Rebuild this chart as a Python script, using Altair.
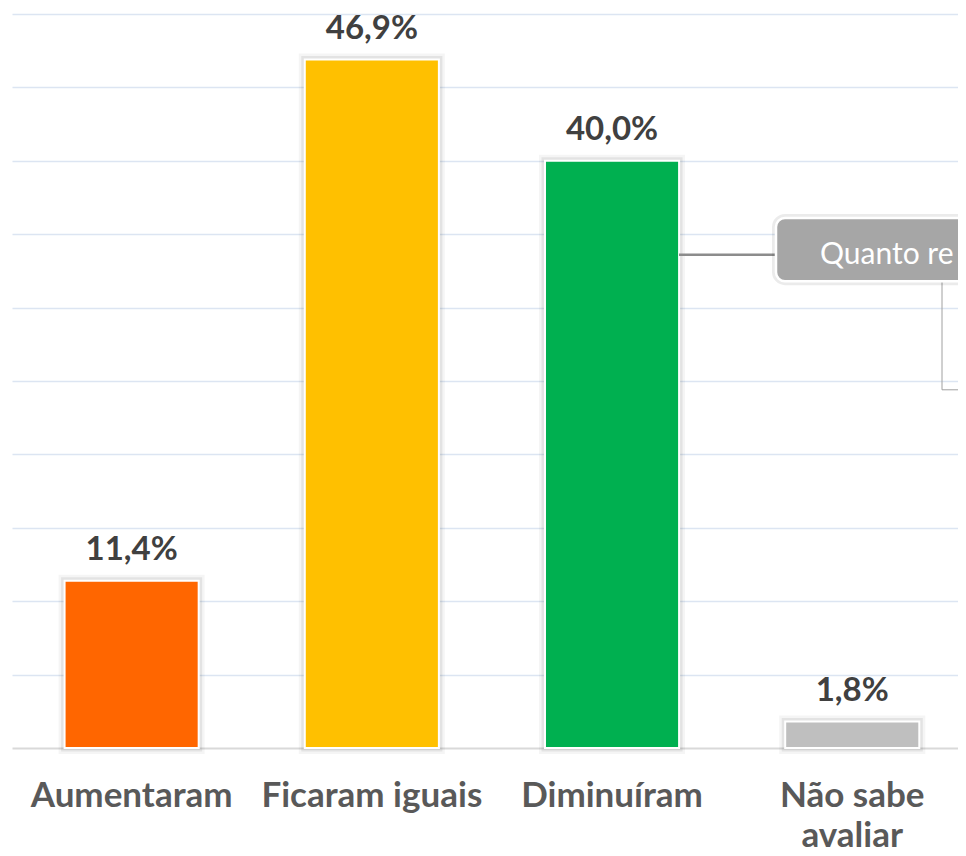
import altair as alt
import pandas as pd

categories = ["Aumentaram", "Ficaram iguais", "Diminuíram", "Não sabe avaliar"]
values = [11.4, 46.9, 40.0, 1.8]
value_labels = ["11,4%", "46,9%", "40,0%", "1,8%"]
bar_colors = ["#FF6600", "#FFC000", "#00B050", "#BFBFBF"]

# annotation callout (partly cut off at the right edge in the source)
note_text = ["Quanto re"]
note_top = [36.1]
note_bottom = [31.8]
note_link = [33.6]
note_low = [24.4]

df = pd.DataFrame({"cat": categories, "val": values, "lab": value_labels, "col": bar_colors})
note = pd.DataFrame({"t": note_text, "top": note_top, "bot": note_bottom,
                     "link": note_link, "low": note_low})

FONT = "Lato"

x = alt.X("cat:N", sort=categories, title=None,
          scale=alt.Scale(paddingInner=0.4417, paddingOuter=0.19, align=0.576),
          axis=alt.Axis(labelAngle=0, labelFont=FONT, labelFontSize=35, labelFontWeight="bold",
                        labelColor="#595959", labelPadding=30, ticks=False, tickSize=0,
                        domain=True, domainColor="#D9D9D9", domainWidth=2,
                        labelLineHeight=40, labelLimit=400,
                        labelExpr="datum.value == 'Não sabe avaliar' ? ['Não sabe', 'avaliar'] : datum.value"))
y = alt.Y("val:Q", title=None, scale=alt.Scale(domain=[0, 50], nice=False, zero=True),
          axis=alt.Axis(labels=False, ticks=False, domain=False, grid=True,
                        values=[5, 10, 15, 20, 25, 30, 35, 40, 45, 50],
                        gridColor="#DCE5F2", gridWidth=1.5))

base = alt.Chart(df)

shadow1 = base.mark_bar(fillOpacity=0, stroke="#000000", strokeOpacity=0.04, strokeWidth=12).encode(x=x, y=y)
shadow2 = base.mark_bar(fillOpacity=0, stroke="#000000", strokeOpacity=0.07, strokeWidth=7).encode(x=x, y=y)
bars = base.mark_bar(stroke="white", strokeWidth=2).encode(
    x=x, y=y, color=alt.Color("col:N", scale=None))
labels = base.mark_text(font=FONT, fontSize=33, fontWeight="bold", color="#404040",
                        baseline="alphabetic", dy=-21).encode(x=x, y="val:Q", text="lab:N")

nb = alt.Chart(note)
link = nb.mark_rule(color="#8C8C8C", strokeWidth=2.5).encode(
    x=alt.value(667), x2=alt.value(764), y="link:Q")
drop_v = nb.mark_rule(color="#A0A0A0", strokeWidth=1).encode(
    x=alt.value(930), y="bot:Q", y2="low:Q")
drop_h = nb.mark_rule(color="#A0A0A0", strokeWidth=1).encode(
    x=alt.value(930), x2=alt.value(990), y="low:Q")
box_shadow = nb.mark_rect(cornerRadius=9, fillOpacity=0, stroke="#000000",
                          strokeOpacity=0.08, strokeWidth=8).encode(
    x=alt.value(764), x2=alt.value(1000), y="top:Q", y2="bot:Q")
box = nb.mark_rect(cornerRadius=9, fill="#A6A6A6", stroke="white", strokeWidth=2.5).encode(
    x=alt.value(764), x2=alt.value(1000), y="top:Q", y2="bot:Q")
box_text = nb.mark_text(font=FONT, fontSize=30, color="white", align="left",
                        baseline="middle").encode(x=alt.value(808), y="link:Q", text="t:N")

chart = alt.layer(shadow1, shadow2, bars, labels, link, drop_v, drop_h,
                  box_shadow, box, box_text).properties(
    width=946, height=734,
    autosize=alt.AutoSizeParams(type="none"),
    padding={"left": 4, "top": 6, "right": 0, "bottom": 100},
    background="white",
).configure_view(stroke=None)

chart.save("out.html", embed_options={"renderer": "svg", "actions": False})
